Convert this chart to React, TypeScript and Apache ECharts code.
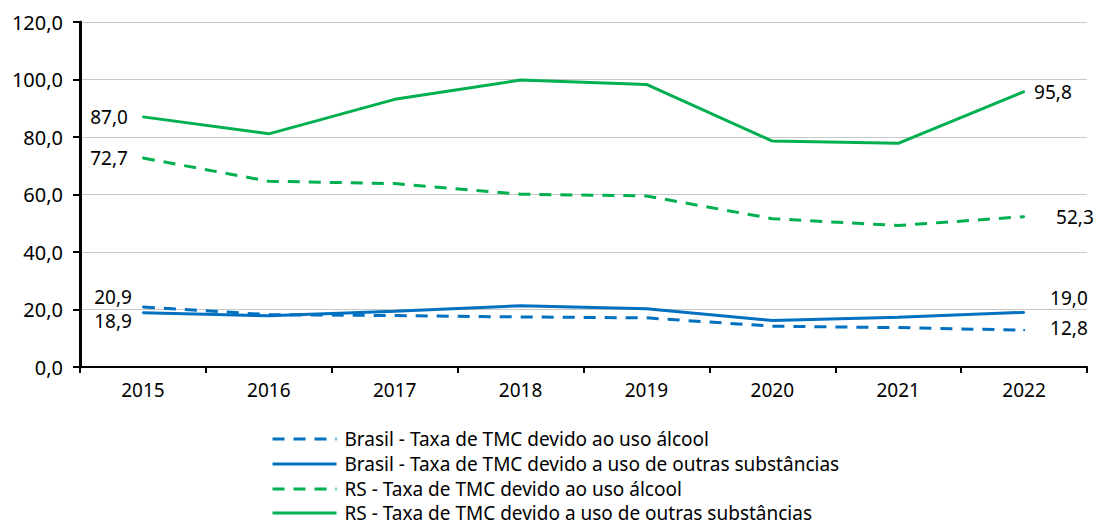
import React, { useEffect, useRef } from "react";
import * as echarts from "echarts";

const years = ["2015", "2016", "2017", "2018", "2019", "2020", "2021", "2022"];
const brasilAlcool = [20.9, 18.2, 17.9, 17.4, 17.1, 14.2, 13.7, 12.8];
const brasilOutras = [18.9, 17.8, 19.4, 21.3, 20.3, 16.2, 17.3, 19.0];
const rsAlcool = [72.7, 64.6, 63.8, 60.1, 59.5, 51.6, 49.2, 52.3];
const rsOutras = [87.0, 81.1, 93.1, 99.8, 98.3, 78.6, 77.8, 95.8];

const names = [
  "Brasil - Taxa de TMC devido ao uso álcool",
  "Brasil - Taxa de TMC devido a uso de outras substâncias",
  "RS - Taxa de TMC devido ao uso álcool",
  "RS - Taxa de TMC devido a uso de outras substâncias",
];

const BLUE = "#0070C0";
const GREEN = "#00B050";
const FONT = "'Noto Sans', 'Open Sans', sans-serif";

const fmt = (v: number) => v.toFixed(1).replace(".", ",");

function withLabels(values: number[], color: string) {
  return values.map((v, i) => {
    if (i === 0 || i === values.length - 1) {
      return {
        value: v,
        symbol: "circle",
        symbolSize: 2,
        itemStyle: { color },
        label: {
          show: true,
          position: i === 0 ? "left" : "right",
          distance: 5,
        },
      };
    }
    return v;
  });
}

export default function App() {
  const ref = useRef<HTMLDivElement>(null);
  useEffect(() => {
    document.body.style.margin = "0";
    if (!ref.current) return;
    const chart = echarts.init(ref.current, null, { renderer: "svg" });
    const labelStyle = {
      color: "#000",
      fontSize: 19,
      fontFamily: FONT,
      formatter: (p: any) => fmt(p.value),
    };
    const mk = (name: string, data: any[], color: string, dashed: boolean, firstOff: number[], lastOff: number[]) => ({
      name,
      type: "line",
      data,
      symbol: "none",
      showSymbol: true,
      lineStyle: { color, width: 3, type: dashed ? [12, 9] : "solid", cap: "butt" },
      itemStyle: { color },
      label: { ...labelStyle, show: false },
      labelLayout: (p: any) => {
        const off = p.dataIndex === 0 ? firstOff : lastOff;
        return { dx: off[0], dy: off[1], hideOverlap: false };
      },
    });
    const legendTops = [424, 449, 474, 498];
    chart.setOption({
      animation: false,
      grid: { left: 80, right: 10, top: 22, bottom: 159, containLabel: false },
      legend: names.map((n, i) => ({
        orient: "vertical",
        left: 266,
        top: legendTops[i],
        itemWidth: 64,
        itemHeight: 14,
        data: [n],
        itemStyle: { opacity: 0 },
        lineStyle: { width: 3 },
        textStyle: { color: "#000", fontSize: 19, lineHeight: 20, fontFamily: FONT, padding: [0, 0, 0, 3] },
      })),
      xAxis: {
        type: "category",
        data: years,
        boundaryGap: true,
        axisLine: { lineStyle: { color: "#000", width: 2 } },
        axisTick: { show: true, length: 6, lineStyle: { color: "#000", width: 2 } },
        axisLabel: { color: "#000", fontSize: 19, fontFamily: FONT, margin: 13 },
      },
      yAxis: {
        type: "value",
        min: 0,
        max: 120,
        interval: 20,
        axisLine: { show: true, lineStyle: { color: "#000", width: 3 } },
        axisTick: { show: true, inside: false, length: 7, lineStyle: { color: "#000", width: 2 } },
        axisLabel: { color: "#000", fontSize: 20, fontFamily: FONT, margin: 17, formatter: (v: number) => fmt(v) },
        splitLine: { lineStyle: { color: "#C8C8C8", width: 1 } },
      },
      series: [
        mk(names[0], withLabels(brasilAlcool, BLUE), BLUE, true, [-5, -10], [20, -2]),
        mk(names[1], withLabels(brasilOutras, BLUE), BLUE, false, [-5, 8], [20, -14]),
        mk(names[2], withLabels(rsAlcool, GREEN), GREEN, true, [-9, 0], [26, 0]),
        mk(names[3], withLabels(rsOutras, GREEN), GREEN, false, [-9, 0], [4, 0]),
      ],
    });
    return () => chart.dispose();
  }, []);
  return <div ref={ref} style={{ width: 1097, height: 526 }} />;
}
